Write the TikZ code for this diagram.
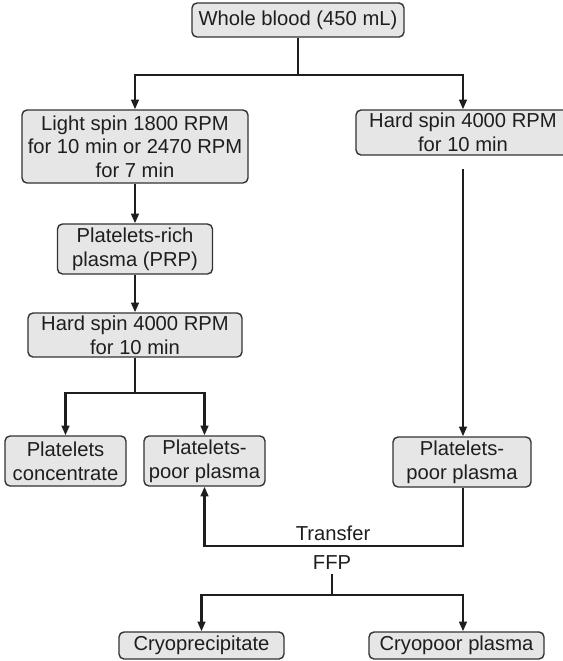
\documentclass[tikz,border=0pt]{standalone}
\usepackage{fontspec}
\setmainfont{Liberation Sans}
\usetikzlibrary{arrows.meta}
\definecolor{boxfill}{HTML}{E6E6E6}
\definecolor{boxline}{HTML}{333333}
\definecolor{ink}{HTML}{1E1E1E}
\begin{document}
\begin{tikzpicture}[x=0.5pt,y=-0.5pt,
  box/.style={draw=boxline,fill=boxfill,line width=0.7pt,rounded corners=2.5pt,
    inner sep=0pt,align=center,text=ink,font=\fontsize{10.1pt}{11.8pt}\selectfont},
  lbl/.style={inner sep=0pt,text=ink,font=\fontsize{10.1pt}{11.8pt}\selectfont},
  conn/.style={draw=ink,line width=1.1pt},
  arr/.style={conn,-{Triangle[length=4.8pt,width=3.8pt]}}]
\clip (0,0) rectangle (563,661);
\fill[white] (0,0) rectangle (563,661);
% boxes
\node[box,minimum width=106pt,minimum height=17pt] (wb) at (298,20) {Whole blood (450 mL)};
\node[box,minimum width=113pt,minimum height=36.5pt] (ls) at (135,146.5) {Light spin 1800 RPM\\for 10 min or 2470 RPM\\for 7 min};
\node[box,minimum width=107pt,minimum height=22.5pt] (hsR) at (463,132.5) {Hard spin 4000 RPM\\for 10 min};
\node[box,minimum width=77.5pt,minimum height=25pt] (prp) at (135,249) {Platelets-rich\\plasma (PRP)};
\node[box,minimum width=107pt,minimum height=22pt] (hsM) at (135,335) {Hard spin 4000 RPM\\for 10 min};
\node[box,minimum width=60.5pt,minimum height=25pt] (pc) at (65.5,461) {Platelets\\concentrate};
\node[box,minimum width=60.5pt,minimum height=25pt] (ppL) at (204.5,461) {Platelets-\\poor plasma};
\node[box,minimum width=69pt,minimum height=25pt] (ppR) at (462,462) {Platelets-\\poor plasma};
\node[box,minimum width=82.5pt,minimum height=13.5pt] (cryo) at (201.5,645.5) {Cryoprecipitate};
\node[box,minimum width=87.5pt,minimum height=13.5pt] (cpp) at (456.5,645.5) {Cryopoor plasma};
\node[lbl] (tr) at (333,533) {Transfer};
\node[lbl] (ffp) at (332,563) {FFP};
% junctions
\coordinate (j1) at (298,75);
\coordinate (hsRt) at (463,169);
\coordinate (j2) at (135,393);
\coordinate (j3) at (463,546);
\coordinate (j4) at (332,595);
% connectors
\draw[conn] (wb.south) -- (j1);
\draw[arr] (j1) -| (ls.north);
\draw[arr] (j1) -| (hsR.north);
\draw[arr] (hsRt) -- (ppR.north -| hsRt);
\draw[arr] (ls.south) -- (prp.north);
\draw[arr] (prp.south) -- (hsM.north);
\draw[conn] (hsM.south) -- (j2);
\draw[arr] (j2) -| (pc.north);
\draw[arr] (j2) -| (ppL.north);
\draw[arr] (ppR.south -| j3) -- (j3) -| (ppL.south);
\draw[conn] ([yshift=-2pt]ffp.south) -- (j4);
\draw[arr] (j4) -| (cryo.north);
\draw[arr] (j4) -| (cpp.north -| hsR);
\end{tikzpicture}
\end{document}
